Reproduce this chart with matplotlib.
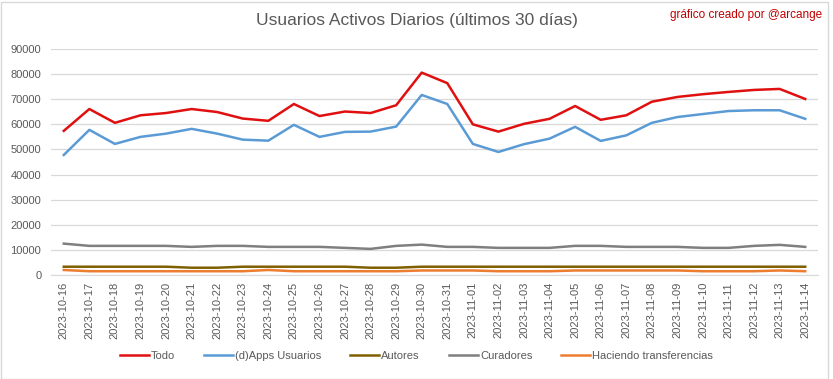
import numpy as np
import pandas as pd
import matplotlib
matplotlib.use("Agg")
import matplotlib.pyplot as plt
from matplotlib.patches import Rectangle

plt.rcParams['font.family'] = ['Liberation Sans', 'DejaVu Sans']

fechas = pd.date_range("2023-10-16", "2023-11-14").strftime("%Y-%m-%d").tolist()

todo = [57400, 66100, 60600, 63600, 64500, 66100, 64900, 62300, 61400, 68100,
        63300, 65100, 64500, 67600, 80600, 76400, 60000, 57100, 60200, 62200,
        67300, 61800, 63600, 69000, 70900, 72000, 72900, 73700, 74100, 70100]
dapps = [47800, 57800, 52200, 55000, 56300, 58200, 56300, 53900, 53500, 59800,
         55000, 57000, 57100, 59100, 71700, 68100, 52200, 49000, 52100, 54300,
         59000, 53400, 55600, 60600, 62900, 64100, 65300, 65600, 65600, 62200]
autores = [3300, 3300, 3300, 3300, 3300, 2900, 2900, 3300, 3300, 3300,
           3300, 3300, 2900, 2900, 3300, 3300, 3300, 3300, 3300, 3300,
           3300, 3300, 3300, 3300, 3300, 3300, 3300, 3300, 3300, 3300]
curadores = [12500, 11600, 11600, 11600, 11600, 11200, 11600, 11600, 11200, 11200,
             11200, 10800, 10400, 11600, 12100, 11200, 11200, 10800, 10800, 10800,
             11600, 11600, 11200, 11200, 11200, 10800, 10800, 11600, 12000, 11200]
transferencias = [2000, 1500, 1500, 1500, 1500, 1500, 1500, 1500, 2000, 1500,
                  1500, 1500, 1500, 1500, 1800, 1800, 1800, 1500, 1500, 1500,
                  1800, 1800, 1800, 1800, 1800, 1500, 1500, 1500, 1800, 1500]

series = [
    ("Todo", todo, "#E01010"),
    ("(d)Apps Usuarios", dapps, "#5B9BD5"),
    ("Autores", autores, "#7F6000"),
    ("Curadores", curadores, "#7F7F7F"),
    ("Haciendo transferencias", transferencias, "#ED7D31"),
]

fig = plt.figure(figsize=(8.33, 3.79), dpi=100)
ax = fig.add_axes([51 / 833, 1 - 275 / 379, (818 - 51) / 833, (275 - 49) / 379])

x = np.arange(len(fechas))
for nombre, vals, color in series:
    ax.plot(x, vals, color=color, linewidth=1.8, label=nombre)

ax.set_xlim(-0.5, len(fechas) - 0.5)
ax.set_ylim(0, 90000)
ax.set_yticks(np.arange(0, 90001, 10000))
ax.set_xticks(x)
ax.set_xticklabels(fechas, rotation=90, fontsize=8, color="#595959")
ax.tick_params(axis='y', labelsize=8, labelcolor="#595959", length=0, pad=7)
ax.tick_params(axis='x', length=0, pad=5)
ax.grid(axis='y', color="#D9D9D9", linewidth=0.9)
ax.set_axisbelow(True)
for s in ["top", "right", "left"]:
    ax.spines[s].set_visible(False)
ax.spines["bottom"].set_color("#D9D9D9")

fig.text(0.5, 1 - 21 / 379, "Usuarios Activos Diarios (últimos 30 días)",
         ha="center", va="center", fontsize=12.5, color="#595959")
fig.text(822 / 833, 1 - 15 / 379, "gráfico creado por @arcange",
         ha="right", va="center", fontsize=8.5, color="#C00000")

fig.legend(loc="center", bbox_to_anchor=(0.5, 1 - 356 / 379), ncol=5,
           frameon=False, fontsize=8, handlelength=2.6, columnspacing=2.6,
           handletextpad=0.2, labelcolor="#595959")

fig.patches.append(Rectangle((0.5 / 833, 0.5 / 379), 1 - 6 / 833, 1 - 2 / 379,
                             transform=fig.transFigure, fill=False,
                             edgecolor="#D9D9D9", linewidth=1))

fig.savefig("out.png", dpi=100)
